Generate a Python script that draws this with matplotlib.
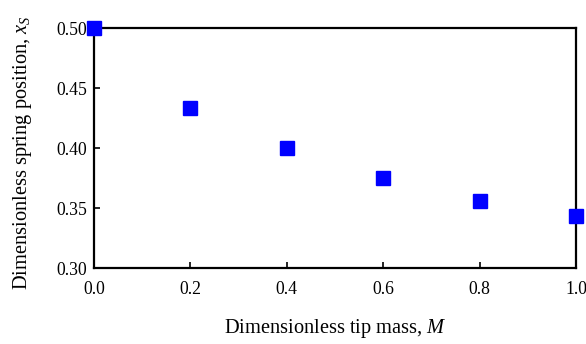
import matplotlib
matplotlib.use("Agg")
import matplotlib.pyplot as plt

# dimensionless tip mass vs spring position
tip_mass = [0.0, 0.2, 0.4, 0.6, 0.8, 1.0]
spring_pos = [0.500, 0.433, 0.400, 0.375, 0.356, 0.343]

plt.rcParams['font.family'] = ['Liberation Serif', 'DejaVu Serif']
plt.rcParams['mathtext.fontset'] = 'custom'
plt.rcParams['mathtext.it'] = 'Liberation Serif:italic'
plt.rcParams['mathtext.rm'] = 'Liberation Serif'

fig = plt.figure(figsize=(5.86, 3.44), dpi=100)
ax = fig.add_axes([0.1604, 0.2209, 0.8226, 0.6977])

ax.plot(tip_mass, spring_pos, 's', color='#0000ff', markersize=10, clip_on=False, zorder=5)

ax.set_xlim(0, 1.0)
ax.set_ylim(0.30, 0.50)
ax.set_xticks([0.0, 0.2, 0.4, 0.6, 0.8, 1.0])
ax.set_yticks([0.30, 0.35, 0.40, 0.45, 0.50])
ax.xaxis.set_major_formatter(plt.FormatStrFormatter('%.1f'))
ax.yaxis.set_major_formatter(plt.FormatStrFormatter('%.2f'))
ax.tick_params(direction='in', length=4, width=1.2, labelsize=12.7, colors='black')
ax.tick_params(axis='x', pad=9)
ax.tick_params(axis='y', pad=5)
for s in ax.spines.values():
    s.set_linewidth(1.6)

ax.set_xlabel('Dimensionless tip mass, $M$', fontsize=14.7, labelpad=14)
ax.set_ylabel('Dimensionless spring position, $x_S$', fontsize=14.7)
ax.yaxis.set_label_coords(-0.125, 0.48)

fig.savefig('out.png', dpi=100)
